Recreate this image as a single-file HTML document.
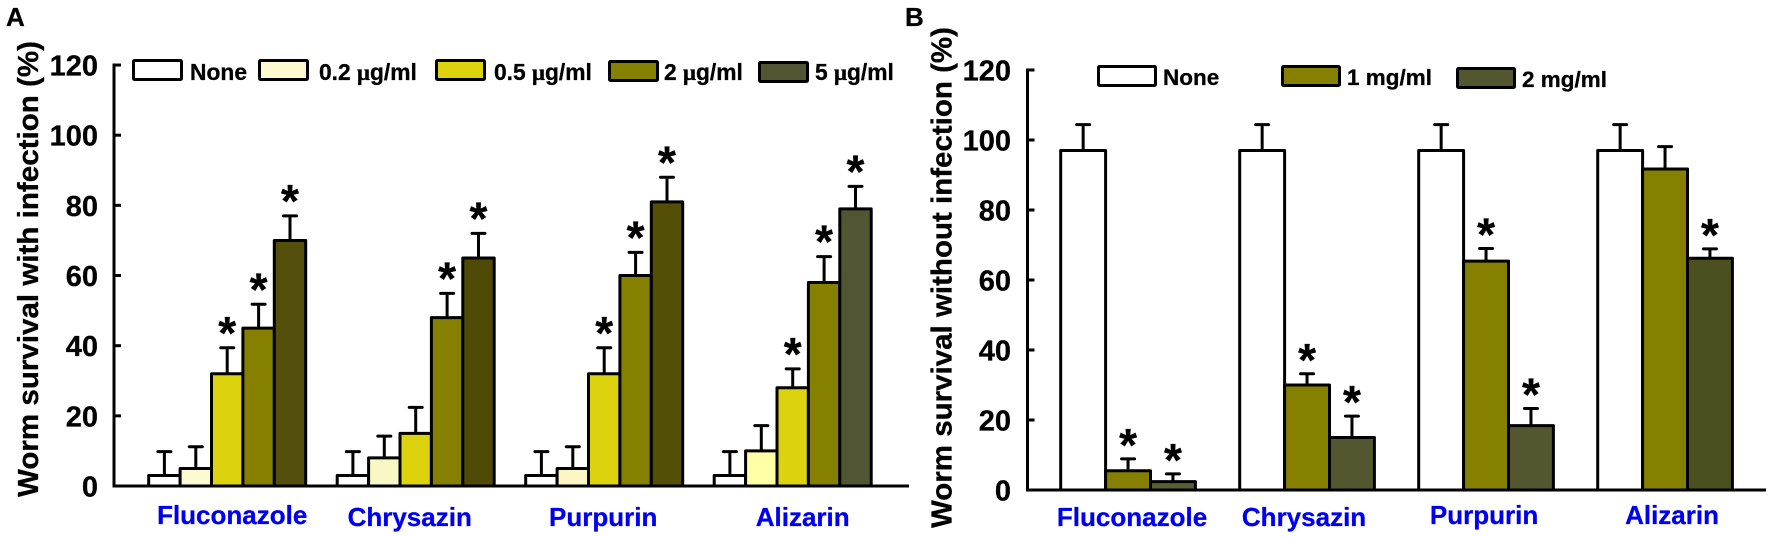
<!DOCTYPE html>
<html lang="en">
<head>
<meta charset="utf-8">
<title>Worm survival bar charts</title>
<style>
  html, body { margin: 0; padding: 0; background: #fff; }
  svg { display: block; }
  text { font-family: "Liberation Sans", Arial, sans-serif; font-weight: bold; stroke: currentColor; stroke-width: 0.3px; color: #000; }
</style>
</head>
<body>
<svg id="figure" xmlns="http://www.w3.org/2000/svg" width="1772" height="537" viewBox="0 0 1772 537">
  <text x="6" y="26" font-size="26">A</text>
  <text x="905" y="26" font-size="26">B</text>
</svg>
<script>
// ---------- shared data ----------
const categories = ['Fluconazole', 'Chrysazin', 'Purpurin', 'Alizarin'];
const yTicks = [0, 20, 40, 60, 80, 100, 120];

// ---------- panel A data ----------
const aNone = [3, 3, 3, 3];
const a02 = [5, 8, 5, 10];
const a05 = [32, 15, 32, 28];
const a2 = [45, 48, 60, 58];
const a5 = [70, 65, 81, 79];
const aNoneErr = [6.8, 6.8, 6.8, 6.8];
const a02Err = [6.2, 6.2, 6.2, 7.2];
const a05Err = [7.4, 7.4, 7.4, 5.4];
const a2Err = [6.8, 6.9, 6.6, 7.4];
const a5Err = [7, 7, 7, 6.4];
const a05Stars = [1, 0, 1, 1];
const a2Stars = [1, 1, 1, 1];
const a5Stars = [1, 1, 1, 1];
const noStars = [0, 0, 0, 0];

// ---------- panel B data ----------
const bNone = [97, 97, 97, 97];
const b1 = [5.5, 30, 65.4, 91.7];
const b2 = [2.4, 15, 18.4, 66.2];
const bNoneErr = [7.4, 7.4, 7.4, 7.4];
const b1Err = [3.4, 3.2, 3.6, 6.4];
const b2Err = [2.2, 6.1, 4.9, 2.7];
const b1Stars = [1, 1, 1, 0];
const b2Stars = [1, 1, 1, 1];

// ---------- drawing ----------
const svg = document.getElementById('figure');
const NS = 'http://www.w3.org/2000/svg';

function add(parent, tag, attrs) {
  const node = document.createElementNS(NS, tag);
  for (const k in attrs) node.setAttribute(k, attrs[k]);
  parent.appendChild(node);
  return node;
}
function slug(s) {
  return s.toLowerCase().replace(/[^a-z0-9]+/g, '-');
}

function drawPanel(p) {
  const y = v => p.y0 - v * p.pxPerUnit;
  const barX = (c, s) => p.firstBar + c * p.groupStep + s * p.barW;

  const g = add(svg, 'g', {});
  
  

  // y axis title
  const title = add(g, 'text', {
    transform: 'translate(' + p.titleX + ',' + p.titleY + ') rotate(-90)',
    'font-size': 29, textLength: p.titleLen, lengthAdjust: 'spacingAndGlyphs'
  });
  title.textContent = p.title;
  
  

  // error bars first, bars painted over the stem foot
  p.series.forEach((s, si) => {
    categories.forEach((cat, c) => {
      const cx = barX(c, si) + p.barW / 2;
      const top = y(s.values[c] + s.err[c]);
      const stem = add(g, 'line', { x1: cx, x2: cx, y1: y(s.values[c]), y2: top, stroke: '#000', 'stroke-width': 3 });
      
      
      const cap = add(g, 'line', { x1: cx - 6.5, x2: cx + 6.5, y1: top, y2: top, stroke: '#000', 'stroke-width': 3, 'stroke-linecap': 'round' });
      
      
    });
  });

  // bars
  p.series.forEach((s, si) => {
    categories.forEach((cat, c) => {
      const fill = s.fills ? s.fills[c] : s.fill;
      const rect = add(g, 'rect', {
        x: barX(c, si), y: y(s.values[c]), width: p.barW, height: p.y0 - y(s.values[c]),
        fill: fill, stroke: '#000', 'stroke-width': 3, 'stroke-linejoin': 'round'
      });
      
      
    });
  });

  // significance stars
  p.series.forEach((s, si) => {
    categories.forEach((cat, c) => {
      if (!s.stars[c]) return;
      const star = add(g, 'text', {
        x: barX(c, si) + p.barW / 2,
        y: y(s.values[c] + s.err[c]) - p.starGap + 23,
        'font-size': 46, 'text-anchor': 'middle'
      });
      star.textContent = '*';
      
      
    });
  });

  // axes
  const yAxis = add(g, 'line', { x1: p.axisX, x2: p.axisX, y1: y(yTicks[yTicks.length - 1]) - 1.5, y2: p.y0 + 1.5, stroke: '#000', 'stroke-width': 3 });
  
  
  const xAxis = add(g, 'line', { x1: p.axisX - 1.5, x2: p.axisEnd, y1: p.y0, y2: p.y0, stroke: '#000', 'stroke-width': 3 });
  
  

  yTicks.forEach(t => {
    if (t !== 0) {
      const tick = add(g, 'line', { x1: p.axisX, x2: p.axisX + 7, y1: y(t), y2: y(t), stroke: '#000', 'stroke-width': 3 });
      
      
    }
    const label = add(g, 'text', { x: p.tickLabelX, y: y(t) + 10.5, 'font-size': 29, 'text-anchor': 'end' });
    label.textContent = String(t);
    
    
  });

  // category labels
  categories.forEach((cat, c) => {
    const groupCentre = barX(c, p.series.length / 2);
    const label = add(g, 'text', {
      x: groupCentre + p.catNudgeX[c], y: p.catBase[c],
      'font-size': 26, 'text-anchor': 'middle', fill: '#0000f0',
      style: 'color:#0000f0'
    });
    label.textContent = cat;
    
    
  });

  // legend
  p.legend.forEach((e, i) => {
    const s = p.series[i];
    const swatch = add(g, 'rect', {
      x: e.x, y: e.y, width: e.w, height: e.h, rx: 1, fill: s.legendFill || s.fill,
      stroke: '#000', 'stroke-width': 3
    });
    
    
    const text = add(g, 'text', { x: e.tx, y: e.ty, 'font-size': p.legendFont });
    
    
    const parts = s.name.split('\u03bc');
    text.appendChild(document.createTextNode(parts[0]));
    if (parts.length > 1) {
      const mu = add(text, 'tspan', { style: 'font-family:"Liberation Serif",serif' });
      mu.textContent = '\u03bc';
      text.appendChild(document.createTextNode(parts[1]));
    }
  });
}

drawPanel({
  id: 'a',
  title: 'Worm survival with infection (%)',
  titleX: 38, titleY: 497, titleLen: 456,
  y0: 486, pxPerUnit: 3.508,
  axisX: 114, axisEnd: 909, tickLabelX: 98,
  firstBar: 148.7, groupStep: 188.5, barW: 31.4,
  starGap: 22, legendFont: 22.8,
  catNudgeX: [5, -6, -1, 10],
  catBase: [524, 526, 526, 526],
  series: [
    { name: 'None', fill: '#ffffff', values: aNone, err: aNoneErr, stars: noStars },
    { name: '0.2 \u03bcg/ml', legendFill: '#fdf9d0', fills: ['#fdf9d0', '#f8f8c4', '#fbf7c4', '#ffffa6'], values: a02, err: a02Err, stars: noStars },
    { name: '0.5 \u03bcg/ml', fill: '#dcd20e', values: a05, err: a05Err, stars: a05Stars },
    { name: '2 \u03bcg/ml', fill: '#858000', values: a2, err: a2Err, stars: a2Stars },
    { name: '5 \u03bcg/ml', legendFill: '#525532', fills: ['#54500c', '#4f4a05', '#544e06', '#525532'], values: a5, err: a5Err, stars: a5Stars }
  ],
  legend: [
    { x: 133.5, y: 60.5, w: 48, h: 19, tx: 190, ty: 80 },
    { x: 259.5, y: 60.5, w: 48, h: 19, tx: 319, ty: 80 },
    { x: 436.5, y: 60.5, w: 48, h: 19, tx: 494, ty: 80 },
    { x: 609.5, y: 61.5, w: 48, h: 19, tx: 664, ty: 80 },
    { x: 759.5, y: 62.5, w: 48, h: 19, tx: 815, ty: 80 }
  ]
});

drawPanel({
  id: 'b',
  title: 'Worm survival without infection (%)',
  titleX: 951.5, titleY: 528, titleLen: 501,
  y0: 490, pxPerUnit: 3.5,
  axisX: 1027.5, axisEnd: 1766, tickLabelX: 1011,
  firstBar: 1060.7, groupStep: 179, barW: 44.9,
  starGap: 21, legendFont: 22.5,
  catNudgeX: [4, -3, -2, 7],
  catBase: [526, 526, 524, 524],
  series: [
    { name: 'None', fill: '#ffffff', values: bNone, err: bNoneErr, stars: noStars },
    { name: '1 mg/ml', fill: '#858000', values: b1, err: b1Err, stars: b1Stars },
    { name: '2 mg/ml', legendFill: '#545630', fills: ['#5a5c33', '#545630', '#545630', '#4c501e'], values: b2, err: b2Err, stars: b2Stars }
  ],
  legend: [
    { x: 1098.5, y: 66.5, w: 57, h: 19, tx: 1163, ty: 85 },
    { x: 1282.5, y: 66.5, w: 57, h: 19, tx: 1347, ty: 85 },
    { x: 1457.5, y: 68.5, w: 57, h: 19, tx: 1522, ty: 87 }
  ]
});
</script>
</body>
</html>
